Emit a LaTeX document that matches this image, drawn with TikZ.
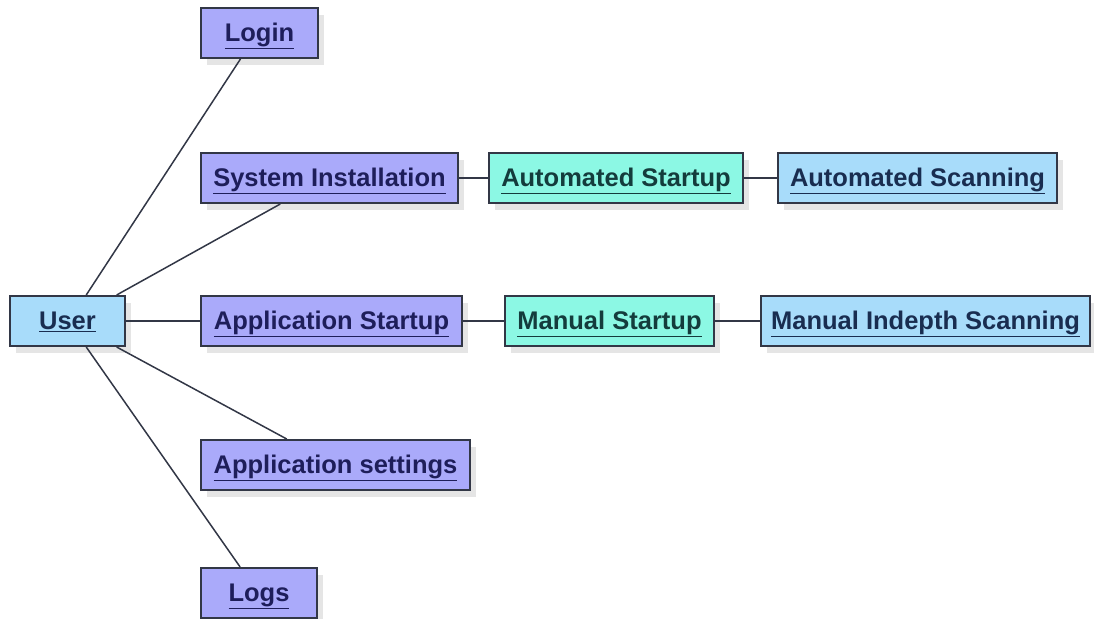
\documentclass[tikz,border=0pt]{standalone}
\usepackage{fontspec}
\setmainfont{Liberation Sans}
\usetikzlibrary{calc,shadows}

\definecolor{boxline}{RGB}{50,55,70}
\definecolor{actorfill}{RGB}{168,220,250}
\definecolor{casefill}{RGB}{170,170,250}
\definecolor{startfill}{RGB}{140,248,228}
\definecolor{actortext}{RGB}{25,45,80}
\definecolor{casetext}{RGB}{30,30,90}
\definecolor{starttext}{RGB}{20,60,60}

\tikzset{
  box/.style={draw=boxline, line width=2pt, anchor=north west, minimum height=50pt,
    inner sep=0pt, text height=18.5pt, text depth=2pt,
    font=\bfseries\fontsize{25.5}{30}\selectfont,
    drop shadow={shadow xshift=6pt, shadow yshift=-7pt, opacity=0.10, fill=black}},
  actor/.style={box, fill=actorfill, text=actortext},
  usecase/.style={box, fill=casefill, text=casetext},
  startcase/.style={box, fill=startfill, text=starttext},
  link/.style={draw=boxline, line width=1.5pt}
}

\begin{document}
\begin{tikzpicture}[x=1pt,y=-1pt]
  \useasboundingbox (0,0) rectangle (1094,618);

  % Benutzer
  \node[actor, minimum width=115pt] (user) at (9,295) {\underline{User}};

  % Anwendungsfaelle der ersten Spalte
  \foreach \nm/\y/\w/\txt in {login/7/117/Login,
      sysinst/152/257/System Installation,
      appstart/295/261/Application Startup,
      appset/439/269/Application settings,
      logs/567/116/Logs} {
    \node[usecase, minimum width=\w pt] (\nm) at (200,\y) {\underline{\txt}};
  }

  % automatischer Zweig
  \node[startcase, minimum width=254pt] (autostart) at (488,152) {\underline{Automated Startup}};
  \node[actor, minimum width=279pt] (autoscan) at (777,152) {\underline{Automated Scanning}};

  % manueller Zweig
  \node[startcase, minimum width=209pt] (manstart) at (504,295) {\underline{Manual Startup}};
  \node[actor, minimum width=329pt] (manscan) at (760,295) {\underline{Manual Indepth Scanning}};

  % Verbindungen vom Benutzer
  \draw[link] ($(user.north west)!0.66!(user.north east)$) -- ($(login.south west)!0.34!(login.south east)$);
  \draw[link] ($(user.north west)!0.92!(user.north east)$) -- ($(sysinst.south west)!0.31!(sysinst.south east)$);
  \draw[link] (user.east) -- (appstart.west);
  \draw[link] ($(user.south west)!0.92!(user.south east)$) -- ($(appset.north west)!0.32!(appset.north east)$);
  \draw[link] ($(user.south west)!0.66!(user.south east)$) -- ($(logs.north west)!0.34!(logs.north east)$);

  % Ketten nach rechts
  \draw[link] (sysinst.east) -- (autostart.west);
  \draw[link] (autostart.east) -- (autoscan.west);
  \draw[link] (appstart.east) -- (manstart.west);
  \draw[link] (manstart.east) -- (manscan.west);
\end{tikzpicture}
\end{document}
